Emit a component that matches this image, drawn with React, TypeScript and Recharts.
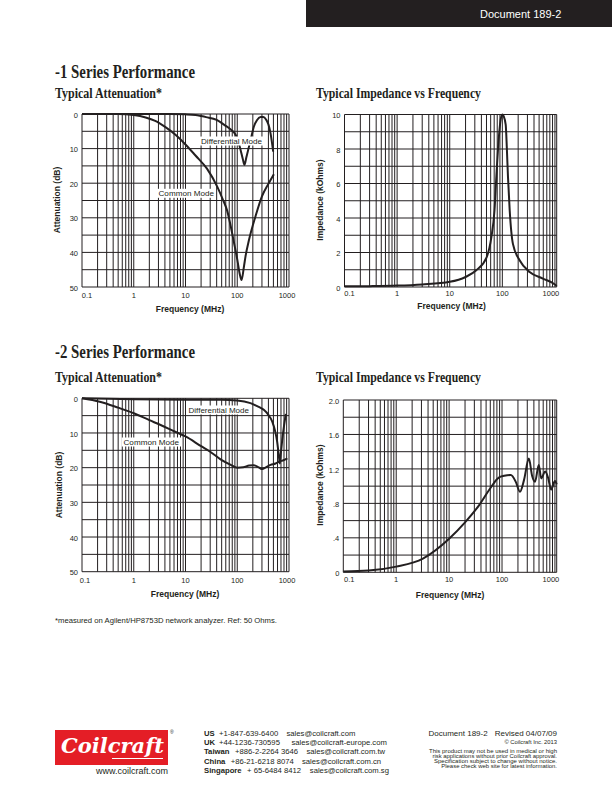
import React from "react";
import { CartesianGrid, Line, LineChart, XAxis, YAxis } from "recharts";

const INK = "#231f20";
const SANS = "'Liberation Sans', Arial, Helvetica, sans-serif";
const SERIF = "'Liberation Serif', 'Times New Roman', serif";

// log grid, MHz
const freqGrid = [
  0.1, 0.2, 0.3, 0.4, 0.5, 0.6, 0.7, 0.8, 0.9,
  1, 2, 3, 4, 5, 6, 7, 8, 9,
  10, 20, 30, 40, 50, 60, 70, 80, 90,
  100, 200, 300, 400, 500, 600, 700, 800, 900,
  1000,
];
const freqGridWide = [...freqGrid, 1080];
const freqLabels = [0.1, 1, 10, 100, 1000];

const attTicks = [0, 5, 10, 15, 20, 25, 30, 35, 40, 45, 50];
const attLabels = [0, 10, 20, 30, 40, 50];
const imp1Ticks = [0, 1, 2, 3, 4, 5, 6, 7, 8, 9, 10];
const imp1Labels = [0, 2, 4, 6, 8, 10];
const imp2Ticks = [0, 0.2, 0.4, 0.6, 0.8, 1, 1.2, 1.4, 1.6, 1.8, 2];
const imp2Labels = [0, 0.4, 0.8, 1.2, 1.6, 2];

// -1 series, attenuation (dB)
const att1CommonFreq = [0.1, 0.5, 1, 1.7, 2.6, 4.1, 6.4, 10, 15.6, 26, 41, 52, 64, 75, 86, 100, 112, 121, 135, 145, 168, 225, 300, 400, 510];
const att1CommonDb = [0, 0, 0.3, 1, 2, 3.8, 6, 8.8, 12, 15.8, 21, 24.5, 28, 32.5, 37, 42, 46.3, 48, 44, 41, 36.5, 29.6, 23.8, 20.2, 17.4];
const att1DiffFreq = [0.1, 1, 5, 10, 15.6, 20, 25, 40, 57, 75, 93, 105, 116, 128, 138, 150, 168, 190, 209, 240, 282, 320, 360, 400, 440, 495];
const att1DiffDb = [0, 0, 0, 0.1, 0.3, 0.6, 0.9, 1.7, 3.2, 4.5, 6, 8, 10.4, 13, 14.7, 12.5, 9.5, 6.2, 3.7, 1.8, 0.9, 0.9, 1.6, 3, 5.6, 10.9];

// -1 series, impedance (kOhms)
const imp1Freq = [0.1, 0.3, 1, 3, 10, 20, 32, 50, 62, 71, 77, 86, 93, 100, 106, 116, 122, 128, 138, 159, 213, 330, 590, 1000, 1080];
const imp1Kohm = [0.04, 0.05, 0.08, 0.15, 0.3, 0.58, 0.97, 1.7, 2.9, 4.45, 6.4, 8.7, 9.7, 10, 9.9, 9.4, 8, 6.4, 4.45, 2.5, 1.55, 0.87, 0.49, 0.15, 0.06];

// -2 series, attenuation (dB)
const att2CommonFreq = [0.1, 0.22, 0.5, 1, 2, 3.3, 6, 10, 20, 30, 47.5, 75, 100, 130, 170, 210, 260, 304, 350, 440, 550, 640, 800, 930];
const att2CommonDb = [0, 1, 2.7, 4.3, 6.3, 7.7, 9.5, 11, 13.8, 15.4, 17.6, 19.2, 20, 19.9, 19.4, 19.3, 19.9, 20.4, 20, 19.2, 18.8, 18.3, 17.8, 17.3];
const att2DiffFreq = [0.1, 1, 10, 50, 100, 180, 260, 330, 400, 475, 540, 590, 630, 665, 700, 740, 800, 870];
const att2DiffDb = [0, 0.3, 0.4, 0.4, 0.6, 1.4, 2.5, 3.4, 4.8, 6.7, 9.5, 12.5, 16, 18.8, 15.5, 12, 8, 4.5];

// -2 series, impedance (kOhms)
const imp2Freq = [0.1, 0.3, 1, 3.2, 10, 20, 37, 57, 87, 110, 147, 182, 218, 260, 322, 370, 420, 495, 550, 655, 740, 850, 1000, 1080];
const imp2Kohm = [0.01, 0.02, 0.066, 0.16, 0.39, 0.58, 0.78, 0.955, 1.1, 1.12, 1.13, 1.05, 0.935, 1.07, 1.32, 1.12, 1.05, 1.245, 1.09, 1.17, 1.1, 0.96, 1.06, 1.02];

type Pt = { x: number; y: number };
const pts = (xs: number[], ys: number[]): Pt[] => xs.map((x, i) => ({ x, y: ys[i] }));

type Box = { left: number; top: number; width: number; height: number };
type Plot = { l: number; r: number; t: number; b: number };

type ChartProps = {
  box: Box;
  plot: Plot;
  xMax: number;
  xTicks: number[];
  xTickGap: number;
  xEdge: [number, number];
  xTitle: [number, number];
  yDomain: [number, number];
  yTicks: number[];
  yLabels: number[];
  yFmt: (v: number) => string;
  reversed?: boolean;
  yTitle: string;
  yTitlePos: [number, number];
  series: Pt[][];
};

function FreqChart(p: ChartProps) {
  const { box, plot } = p;
  const mTop = plot.t - box.top;
  const mRight = box.left + box.width - plot.r;
  const yW = plot.l - box.left;
  const xH = box.top + box.height - plot.b;

  const xTick = (t: any) => {
    const v = t.payload.value;
    if (!freqLabels.includes(v)) return <g />;
    const dx = v === 0.1 ? p.xEdge[0] : v === 1000 ? p.xEdge[1] : 0;
    return (
      <text x={t.x + dx} y={plot.b - box.top + p.xTickGap} dy="0.35em" textAnchor="middle"
        fontSize={7.5} fontFamily={SANS} fill={INK}>
        {String(v)}
      </text>
    );
  };

  const yTick = (t: any) => {
    const v = t.payload.value;
    if (!p.yLabels.includes(v)) return <g />;
    return (
      <text x={plot.l - box.left - 4} y={t.y + 1} dy="0.35em" textAnchor="end"
        fontSize={7.5} fontFamily={SANS} fill={INK}>
        {p.yFmt(v)}
      </text>
    );
  };

  const xLabel = () => (
    <text x={p.xTitle[0] - box.left} y={p.xTitle[1] - box.top} dy="0.35em" textAnchor="middle"
      fontSize={8.5} fontWeight="bold" fontFamily={SANS} fill={INK}>
      Frequency (MHz)
    </text>
  );

  const yLabel = () => {
    const x = p.yTitlePos[0] - box.left;
    const y = p.yTitlePos[1] - box.top;
    return (
      <text x={x} y={y} dy="0.35em" textAnchor="middle" transform={`rotate(-90 ${x} ${y})`}
        fontSize={8.5} fontWeight="bold" fontFamily={SANS} fill={INK}>
        {p.yTitle}
      </text>
    );
  };

  return (
    <div style={{ position: "absolute", left: box.left, top: box.top, zIndex: 1 }}>
      <LineChart width={box.width} height={box.height}
        margin={{ top: mTop, right: mRight, left: 0, bottom: 0 }}>
        <CartesianGrid stroke={INK} strokeWidth={1} />
        <XAxis dataKey="x" type="number" scale="log" domain={[0.1, p.xMax]}
          ticks={p.xTicks} interval={0} height={xH} tickLine={false} axisLine={false}
          tick={xTick} label={xLabel} />
        <YAxis type="number" domain={p.yDomain} reversed={p.reversed} ticks={p.yTicks}
          interval={0} width={yW} tickLine={false} axisLine={false}
          tick={yTick} label={yLabel} />
        {p.series.map((s, i) => (
          <Line key={i} data={s} dataKey="y" type="monotone" stroke={INK} strokeWidth={2}
            dot={false} activeDot={false} isAnimationActive={false} />
        ))}
      </LineChart>
    </div>
  );
}

const attFmt = (v: number) => String(v);
const imp2Fmt = (v: number) => (v === 0 ? "0" : v === 2 ? "2.0" : v < 1 ? String(v).slice(1) : String(v));

function ModeLabel({ x1, x2, y, text }: { x1: number; x2: number; y: number; text: string }) {
  return (
    <g>
      <rect x={x1 - 2} y={y - 4.5} width={x2 - x1 + 4} height={9} fill="#fff" />
      <text x={x1} y={y} dy="0.35em" fontSize={8} fontFamily={SANS} fill={INK}
        textLength={x2 - x1} lengthAdjust="spacingAndGlyphs">
        {text}
      </text>
    </g>
  );
}

function Title({ x, y, size, len, text }: { x: number; y: number; size: number; len: number; text: string }) {
  return (
    <text x={x} y={y} fontFamily={SERIF} fontWeight="bold" fontSize={size} fill={INK}
      textLength={len} lengthAdjust="spacingAndGlyphs">
      {text}
    </text>
  );
}

function Page() {
  const small = { fontFamily: SANS, fill: INK } as const;
  return (
    <svg width={612} height={792} style={{ position: "absolute", left: 0, top: 0, zIndex: 2, pointerEvents: "none" }}>
      <rect x={306} y={0} width={306} height={27} fill={INK} />
      <text x={480} y={17.5} fontSize={11} fontFamily={SANS} fill="#fff">Document 189-2</text>

      <Title x={55} y={78} size={19} len={140} text="-1 Series Performance" />
      <Title x={55} y={97.5} size={14} len={107} text="Typical Attenuation*" />
      <Title x={316} y={97.5} size={14} len={165} text="Typical Impedance vs Frequency" />
      <Title x={55} y={358} size={19} len={140} text="-2 Series Performance" />
      <Title x={55} y={381.5} size={14} len={107} text="Typical Attenuation*" />
      <Title x={316} y={381.5} size={14} len={165} text="Typical Impedance vs Frequency" />

      <ModeLabel x1={201} x2={262} y={141} text="Differential Mode" />
      <ModeLabel x1={158.5} x2={214} y={193.3} text="Common Mode" />
      <ModeLabel x1={188.5} x2={249} y={410} text="Differential Mode" />
      <ModeLabel x1={123.5} x2={179} y={442} text="Common Mode" />

      <text x={55} y={622.5} fontSize={7.5} {...small} textLength={222} lengthAdjust="spacingAndGlyphs">
        *measured on Agilent/HP8753D network analyzer. Ref: 50 Ohms.
      </text>

      {/* footer */}
      <rect x={55} y={730} width={113} height={35} fill="#e41e26" />
      <text x={61} y={753} fontSize={21} fontStyle="italic" fontWeight="bold" fontFamily="'DejaVu Serif', serif"
        fill="#fff">Coilcraft</text>
      <path d="M 112 758.5 L 163 758.5" stroke="#fff" strokeWidth={1} />
      <text x={170} y={734} fontSize={5} {...small}>®</text>
      <text x={168} y={774} fontSize={9} textAnchor="end" {...small}>www.coilcraft.com</text>

      <g fontSize={7.7} {...small}>
        <text x={204} y={736} fontWeight="bold">US</text>
        <text x={219} y={736}>+1-847-639-6400</text>
        <text x={286.5} y={736}>sales@coilcraft.com</text>
        <text x={204} y={745} fontWeight="bold">UK</text>
        <text x={219} y={745}>+44-1236-730595</text>
        <text x={291.5} y={745}>sales@coilcraft-europe.com</text>
        <text x={204} y={754} fontWeight="bold">Taiwan</text>
        <text x={235} y={754}>+886-2-2264 3646</text>
        <text x={306.4} y={754}>sales@coilcraft.com.tw</text>
        <text x={204} y={764} fontWeight="bold">China</text>
        <text x={230.7} y={764}>+86-21-6218 8074</text>
        <text x={302} y={764}>sales@coilcraft.com.cn</text>
        <text x={204} y={773} fontWeight="bold">Singapore</text>
        <text x={247} y={773}>+ 65-6484 8412</text>
        <text x={309.8} y={773}>sales@coilcraft.com.sg</text>
      </g>

      <g {...small}>
        <text x={428.5} y={735.5} fontSize={8}>Document 189-2</text>
        <text x={557} y={735.5} fontSize={8} textAnchor="end">Revised 04/07/09</text>
        <text x={557} y={744} fontSize={5.8} textAnchor="end">© Coilcraft Inc. 2013</text>
        <text x={557} y={752.5} fontSize={6} textAnchor="end" textLength={128} lengthAdjust="spacingAndGlyphs">This product may not be used in medical or high</text>
        <text x={557} y={757.5} fontSize={6} textAnchor="end" textLength={124.5} lengthAdjust="spacingAndGlyphs">risk applications without prior Coilcraft approval.</text>
        <text x={557} y={762.8} fontSize={6} textAnchor="end" textLength={123} lengthAdjust="spacingAndGlyphs">Specification subject to change without notice.</text>
        <text x={557} y={768} fontSize={6} textAnchor="end" textLength={115.7} lengthAdjust="spacingAndGlyphs">Please check web site for latest information.</text>
      </g>
    </svg>
  );
}

export default function App() {
  return (
    <div style={{ position: "absolute", left: 0, top: 0, width: 612, height: 792, background: "#fff" }}>
      <FreqChart
        box={{ left: 30, top: 98, width: 270, height: 228 }}
        plot={{ l: 82, r: 289, t: 114, b: 287 }}
        xMax={1000} xTicks={freqGrid} xTickGap={8} xEdge={[5, -2]} xTitle={[190, 309]}
        yDomain={[0, 50]} yTicks={attTicks} yLabels={attLabels} yFmt={attFmt} reversed
        yTitle="Attenuation (dB)" yTitlePos={[57.5, 200]}
        series={[pts(att1DiffFreq, att1DiffDb), pts(att1CommonFreq, att1CommonDb)]}
      />
      <FreqChart
        box={{ left: 300, top: 98, width: 268, height: 228 }}
        plot={{ l: 344.5, r: 556.7, t: 114.5, b: 287 }}
        xMax={1080} xTicks={freqGridWide} xTickGap={6.5} xEdge={[5, -4]} xTitle={[451.5, 306.5]}
        yDomain={[0, 10]} yTicks={imp1Ticks} yLabels={imp1Labels} yFmt={attFmt}
        yTitle="Impedance (kOhms)" yTitlePos={[320, 200]}
        series={[pts(imp1Freq, imp1Kohm)]}
      />
      <FreqChart
        box={{ left: 30, top: 382, width: 270, height: 228 }}
        plot={{ l: 82, r: 289, t: 398.3, b: 571.7 }}
        xMax={1000} xTicks={freqGrid} xTickGap={9} xEdge={[3, -2]} xTitle={[185, 594]}
        yDomain={[0, 50]} yTicks={attTicks} yLabels={attLabels} yFmt={attFmt} reversed
        yTitle="Attenuation (dB)" yTitlePos={[59, 485]}
        series={[pts(att2DiffFreq, att2DiffDb), pts(att2CommonFreq, att2CommonDb)]}
      />
      <FreqChart
        box={{ left: 300, top: 384, width: 268, height: 228 }}
        plot={{ l: 343.3, r: 556.7, t: 400, b: 572.3 }}
        xMax={1080} xTicks={freqGridWide} xTickGap={7} xEdge={[6, -4]} xTitle={[450, 595]}
        yDomain={[0, 2]} yTicks={imp2Ticks} yLabels={imp2Labels} yFmt={imp2Fmt}
        yTitle="Impedance (kOhms)" yTitlePos={[320, 485]}
        series={[pts(imp2Freq, imp2Kohm)]}
      />
      <Page />
    </div>
  );
}
